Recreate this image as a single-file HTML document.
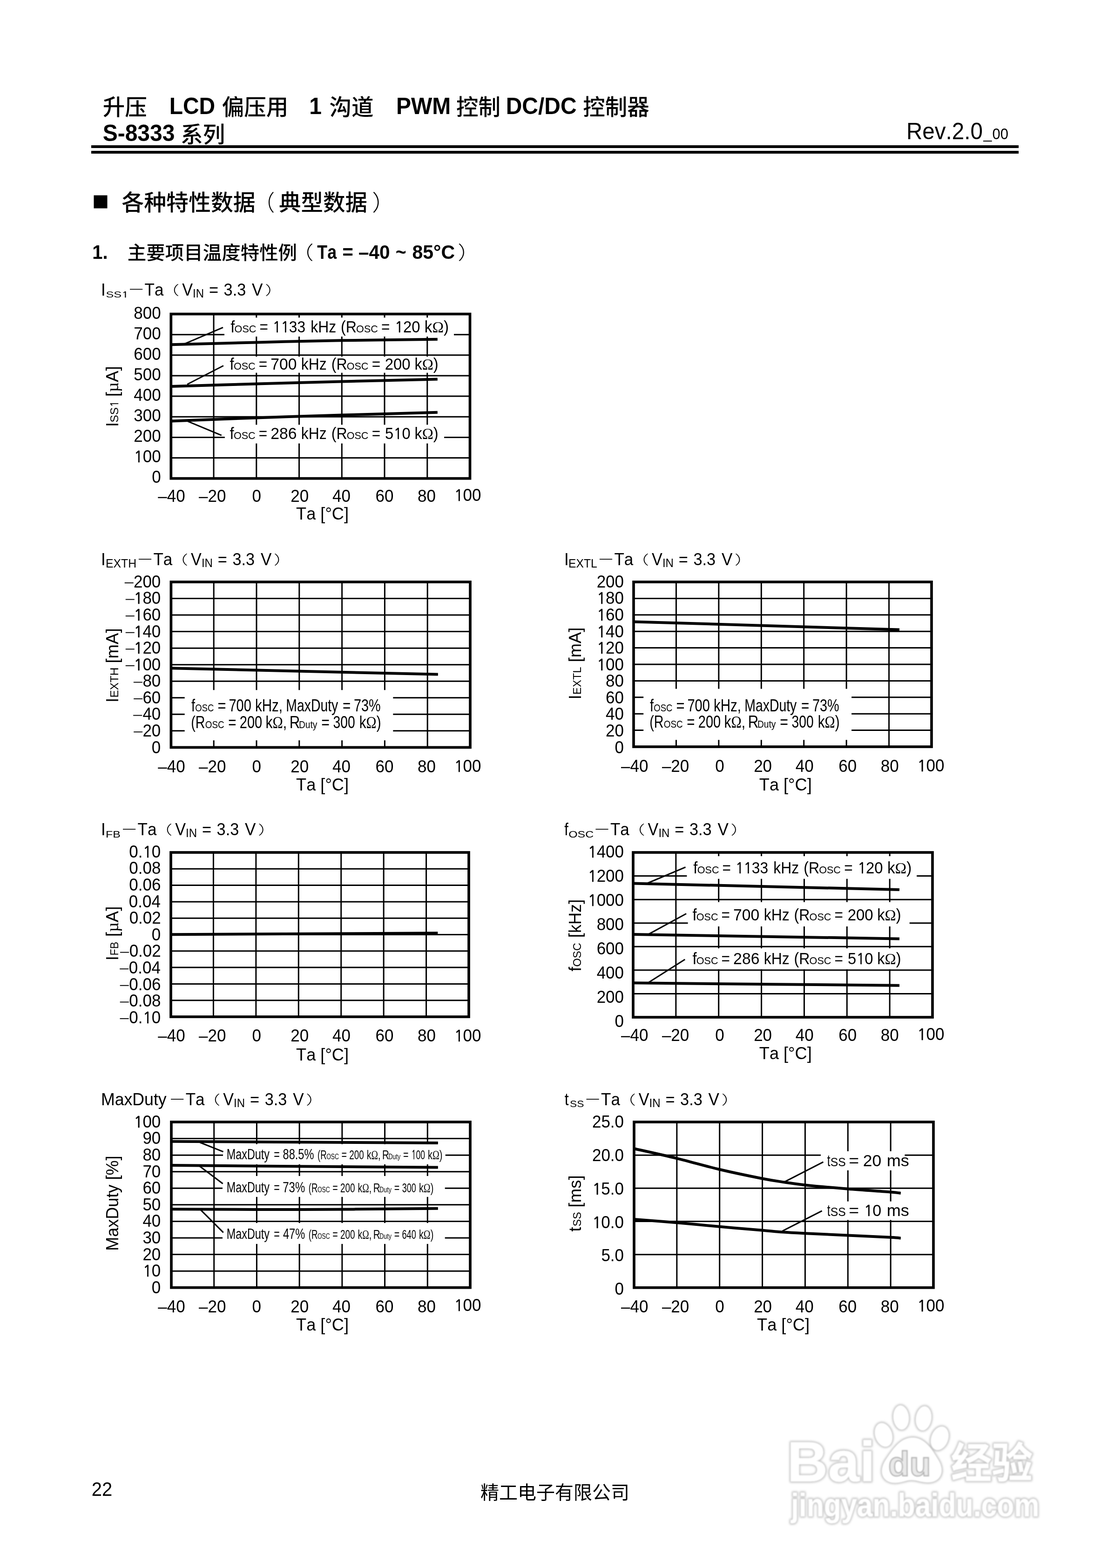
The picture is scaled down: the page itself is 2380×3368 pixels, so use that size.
<!DOCTYPE html>
<html lang="zh-CN"><head><meta charset="utf-8">
<title>S-8333 系列 各种特性数据</title>
<style>html,body{margin:0;padding:0;background:#fff}body{width:2380px;height:3368px;overflow:hidden}svg{display:block}text{white-space:pre;font-kerning:none}</style>
</head><body>
<svg width="2380" height="3368" viewBox="0 0 2380 3368">
<defs><filter id="wb" x="-5%" y="-10%" width="110%" height="120%"><feGaussianBlur stdDeviation="2.0"/></filter><filter id="wb2" x="-5%" y="-10%" width="110%" height="120%"><feGaussianBlur stdDeviation="0.9"/></filter></defs>
<rect width="2380" height="3368" fill="#fff"/>
<text transform="translate(220.79 247.30)" font-size="47.50" style='font-family:"Liberation Sans","Noto Sans CJK SC",sans-serif;font-weight:500'>升压</text>
<text transform="translate(363.63 245.30) scale(0.9597 1)" font-size="50.02" style='font-family:"Liberation Sans",sans-serif;font-weight:bold'>LCD</text>
<text transform="translate(476.66 247.30)" font-size="47.50" style='font-family:"Liberation Sans","Noto Sans CJK SC",sans-serif;font-weight:500'>偏压用</text>
<text transform="translate(664.22 245.30) scale(0.9597 1)" font-size="50.02" style='font-family:"Liberation Sans",sans-serif;font-weight:bold'>1</text>
<text transform="translate(707.58 247.30)" font-size="47.50" style='font-family:"Liberation Sans","Noto Sans CJK SC",sans-serif;font-weight:500'>沟道</text>
<text transform="translate(851.03 245.30) scale(0.9597 1)" font-size="50.02" style='font-family:"Liberation Sans",sans-serif;font-weight:bold'>PWM</text>
<text transform="translate(979.97 247.30)" font-size="47.50" style='font-family:"Liberation Sans","Noto Sans CJK SC",sans-serif;font-weight:500'>控制</text>
<text transform="translate(1086.63 245.30) scale(0.9597 1)" font-size="50.02" style='font-family:"Liberation Sans",sans-serif;font-weight:bold'>DC/DC</text>
<text transform="translate(1252.27 247.30)" font-size="47.50" style='font-family:"Liberation Sans","Noto Sans CJK SC",sans-serif;font-weight:500'>控制器</text>
<text transform="translate(220.66 303.00) scale(0.9597 1)" font-size="50.02" style='font-family:"Liberation Sans",sans-serif;font-weight:bold'>S-8333</text>
<text transform="translate(388.34 305.50)" font-size="47.50" style='font-family:"Liberation Sans","Noto Sans CJK SC",sans-serif;font-weight:500'>系列</text>
<text transform="translate(1947.00 299.00) scale(0.9510 1)" font-size="50.02" style='font-family:"Liberation Sans",sans-serif'>Rev.2.0</text>
<text transform="translate(2112.61 297.50) scale(0.9913 1)" font-size="32.30" style='font-family:"Liberation Sans",sans-serif'>_</text>
<text transform="translate(2131.41 299.00) scale(0.9597 1)" font-size="32.30" style='font-family:"Liberation Sans",sans-serif'>00</text>
<rect x="196.00" y="312.00" width="1992.00" height="6.00" fill="#000" stroke="none"/>
<rect x="196.00" y="324.00" width="1992.00" height="6.00" fill="#000" stroke="none"/>
<rect x="201.50" y="419.50" width="29.00" height="28.00" fill="#000" stroke="none"/>
<text transform="translate(261.25 451.80) scale(1.0090 1)" font-size="47.50" style='font-family:"Liberation Sans","Noto Sans CJK SC",sans-serif;font-weight:500'>各种特性数据</text>
<text transform="translate(544.27 451.80) scale(0.9649 1)" font-size="47.50" style='font-family:"Liberation Sans","Noto Sans CJK SC",sans-serif;font-weight:300'>（</text>
<text transform="translate(599.09 451.80)" font-size="47.50" style='font-family:"Liberation Sans","Noto Sans CJK SC",sans-serif;font-weight:500'>典型数据</text>
<text transform="translate(799.20 451.80) scale(1.0526 1)" font-size="47.50" style='font-family:"Liberation Sans","Noto Sans CJK SC",sans-serif;font-weight:300'>）</text>
<text transform="translate(198.20 556.30) scale(0.9597 1)" font-size="41.68" style='font-family:"Liberation Sans",sans-serif;font-weight:bold'>1.</text>
<text transform="translate(273.81 556.80) scale(1.0120 1)" font-size="40.00" style='font-family:"Liberation Sans","Noto Sans CJK SC",sans-serif;font-weight:500'>主要项目温度特性例</text>
<text transform="translate(625.79 556.80) scale(1.1979 1)" font-size="40.00" style='font-family:"Liberation Sans","Noto Sans CJK SC",sans-serif;font-weight:300'>（</text>
<text transform="translate(681.34 556.30) scale(0.8575 1)" font-size="41.68" style='font-family:"Liberation Sans",sans-serif;font-weight:bold'>Ta</text>
<text transform="translate(735.60 556.30) scale(0.9568 1)" font-size="41.68" style='font-family:"Liberation Sans",sans-serif;font-weight:bold'>=</text>
<text transform="translate(769.88 556.30) scale(0.9729 1)" font-size="41.68" style='font-family:"Liberation Sans",sans-serif;font-weight:bold'>–40</text>
<text transform="translate(849.81 556.30) scale(0.9409 1)" font-size="41.68" style='font-family:"Liberation Sans",sans-serif;font-weight:bold'>~</text>
<text transform="translate(885.47 556.30) scale(0.9848 1)" font-size="41.68" style='font-family:"Liberation Sans",sans-serif;font-weight:bold'>85°C</text>
<text transform="translate(983.30 556.80) scale(1.1979 1)" font-size="40.00" style='font-family:"Liberation Sans","Noto Sans CJK SC",sans-serif;font-weight:300'>）</text>
<text transform="translate(196.70 3213.00) scale(0.9597 1)" font-size="41.68" style='font-family:"Liberation Sans",sans-serif'>22</text>
<text transform="translate(1032.10 3219.50)" font-size="40.00" style='font-family:"Liberation Sans","Noto Sans CJK SC",sans-serif'>精工电子有限公司</text>
<text transform="translate(216.98 634.60) scale(0.9597 1)" font-size="36.47" style='font-family:"Liberation Sans",sans-serif'>I</text>
<text transform="translate(227.39 638.70) scale(1.3506 1)" font-size="18.76" style='font-family:"Liberation Sans",sans-serif'>SS<tspan style='font-family:"NanumGothic","Liberation Sans",sans-serif;stroke:#000;stroke-width:0.022em' font-size='17.35' dx='0.19'>1</tspan></text>
<line x1="279.00" y1="621.40" x2="306.20" y2="621.40" stroke-width="1.70" stroke="#000"/>
<text transform="translate(310.53 634.60) scale(0.9618 1)" font-size="36.47" style='font-family:"Liberation Sans",sans-serif'>Ta</text>
<text transform="translate(345.14 632.60) scale(1.4545 1)" font-size="27.50" style='font-family:"Liberation Sans","Noto Sans CJK SC",sans-serif;font-weight:300'>（</text>
<text transform="translate(391.16 634.60) scale(0.9389 1)" font-size="36.47" style='font-family:"Liberation Sans",sans-serif'>V</text>
<text transform="translate(413.99 638.60) scale(0.9414 1)" font-size="25.53" style='font-family:"Liberation Sans",sans-serif'>IN</text>
<text transform="translate(448.95 634.60) scale(0.9440 1)" font-size="36.47" style='font-family:"Liberation Sans",sans-serif'>=</text>
<text transform="translate(480.60 634.60) scale(0.9398 1)" font-size="36.47" style='font-family:"Liberation Sans",sans-serif'>3.3</text>
<text transform="translate(541.06 634.60) scale(0.9638 1)" font-size="36.47" style='font-family:"Liberation Sans",sans-serif'>V</text>
<text transform="translate(569.16 632.60) scale(1.4545 1)" font-size="27.50" style='font-family:"Liberation Sans","Noto Sans CJK SC",sans-serif;font-weight:300'>）</text>
<g stroke="#000" fill="none">
<line x1="459.04" y1="674.50" x2="459.04" y2="1027.70" stroke-width="3.00" />
<line x1="550.79" y1="674.50" x2="550.79" y2="1027.70" stroke-width="3.00" />
<line x1="642.53" y1="674.50" x2="642.53" y2="1027.70" stroke-width="3.00" />
<line x1="734.27" y1="674.50" x2="734.27" y2="1027.70" stroke-width="3.00" />
<line x1="826.01" y1="674.50" x2="826.01" y2="1027.70" stroke-width="3.00" />
<line x1="917.76" y1="674.50" x2="917.76" y2="1027.70" stroke-width="3.00" />
<line x1="367.30" y1="718.65" x2="1009.50" y2="718.65" stroke-width="3.00" />
<line x1="367.30" y1="762.80" x2="1009.50" y2="762.80" stroke-width="3.00" />
<line x1="367.30" y1="806.95" x2="1009.50" y2="806.95" stroke-width="3.00" />
<line x1="367.30" y1="851.10" x2="1009.50" y2="851.10" stroke-width="3.00" />
<line x1="367.30" y1="895.25" x2="1009.50" y2="895.25" stroke-width="3.00" />
<line x1="367.30" y1="939.40" x2="1009.50" y2="939.40" stroke-width="3.00" />
<line x1="367.30" y1="983.55" x2="1009.50" y2="983.55" stroke-width="3.00" />
</g>
<rect x="482.00" y="682.20" width="493.00" height="40.70" fill="#fff" stroke="none"/>
<rect x="482.00" y="766.00" width="468.00" height="34.70" fill="#fff" stroke="none"/>
<rect x="482.80" y="912.40" width="471.30" height="40.10" fill="#fff" stroke="none"/>
<g stroke="#000" fill="none">
<path d="M367.30 740.30 C397.92 739.48 489.88 736.90 551.00 735.40 C612.12 733.90 669.20 732.40 734.00 731.30 C798.80 730.20 905.50 729.22 939.80 728.80" fill="none" stroke-width="6.00"/>
<path d="M367.30 830.00 C397.92 829.08 489.88 826.25 551.00 824.50 C612.12 822.75 669.20 821.18 734.00 819.50 C798.80 817.82 905.50 815.25 939.80 814.40" fill="none" stroke-width="6.00"/>
<path d="M367.30 904.60 C397.92 903.42 489.88 899.68 551.00 897.50 C612.12 895.32 669.20 893.45 734.00 891.50 C798.80 889.55 905.50 886.75 939.80 885.80" fill="none" stroke-width="6.00"/>
<line x1="395.70" y1="738.80" x2="479.00" y2="703.30" stroke-width="3.00" />
<line x1="402.20" y1="825.50" x2="479.90" y2="785.50" stroke-width="3.00" />
<line x1="403.70" y1="905.20" x2="475.80" y2="935.20" stroke-width="3.00" />
<rect x="367.30" y="674.50" width="642.20" height="353.20" stroke-width="5.70"/>
</g>
<text transform="translate(287.25 684.80) scale(0.9597 1)" font-size="36.47" style='font-family:"Liberation Sans",sans-serif'>800</text>
<text transform="translate(287.25 728.77) scale(0.9597 1)" font-size="36.47" style='font-family:"Liberation Sans",sans-serif'>700</text>
<text transform="translate(287.25 772.75) scale(0.9597 1)" font-size="36.47" style='font-family:"Liberation Sans",sans-serif'>600</text>
<text transform="translate(287.25 816.72) scale(0.9597 1)" font-size="36.47" style='font-family:"Liberation Sans",sans-serif'>500</text>
<text transform="translate(287.25 860.70) scale(0.9597 1)" font-size="36.47" style='font-family:"Liberation Sans",sans-serif'>400</text>
<text transform="translate(287.25 904.67) scale(0.9597 1)" font-size="36.47" style='font-family:"Liberation Sans",sans-serif'>300</text>
<text transform="translate(287.25 948.65) scale(0.9597 1)" font-size="36.47" style='font-family:"Liberation Sans",sans-serif'>200</text>
<text transform="translate(287.25 992.62) scale(0.9597 1)" font-size="36.47" style='font-family:"Liberation Sans",sans-serif'><tspan style='font-family:"NanumGothic","Liberation Sans",sans-serif;stroke:#000;stroke-width:0.022em' font-size='33.73' dx='0.36'>1</tspan><tspan dx='-0.53'>00</tspan></text>
<text transform="translate(326.17 1036.60) scale(0.9597 1)" font-size="36.47" style='font-family:"Liberation Sans",sans-serif'>0</text>
<text transform="translate(339.28 1078.30) scale(0.9597 1)" font-size="36.47" style='font-family:"Liberation Sans",sans-serif'>–40</text>
<text transform="translate(427.08 1078.30) scale(0.9597 1)" font-size="36.47" style='font-family:"Liberation Sans",sans-serif'>–20</text>
<text transform="translate(541.47 1078.30) scale(0.9597 1)" font-size="36.47" style='font-family:"Liberation Sans",sans-serif'>0</text>
<text transform="translate(624.33 1078.30) scale(0.9597 1)" font-size="36.47" style='font-family:"Liberation Sans",sans-serif'>20</text>
<text transform="translate(713.92 1078.30) scale(0.9597 1)" font-size="36.47" style='font-family:"Liberation Sans",sans-serif'>40</text>
<text transform="translate(806.53 1078.30) scale(0.9597 1)" font-size="36.47" style='font-family:"Liberation Sans",sans-serif'>60</text>
<text transform="translate(897.07 1078.30) scale(0.9597 1)" font-size="36.47" style='font-family:"Liberation Sans",sans-serif'>80</text>
<text transform="translate(975.17 1076.10) scale(0.9597 1)" font-size="36.47" style='font-family:"Liberation Sans",sans-serif'><tspan style='font-family:"NanumGothic","Liberation Sans",sans-serif;stroke:#000;stroke-width:0.022em' font-size='33.73' dx='0.36'>1</tspan><tspan dx='-0.53'>00</tspan></text>
<text transform="translate(636.10 1115.80) scale(0.9918 1)" font-size="36.47" style='font-family:"Liberation Sans",sans-serif'>Ta [°C]</text>
<text transform="translate(495.24 714.20) scale(0.9597 1)" font-size="34.39" style='font-family:"Liberation Sans",sans-serif'>f</text>
<text transform="translate(503.61 714.20) scale(0.9428 1)" font-size="22.92" style='font-family:"Liberation Sans",sans-serif'>OSC</text>
<text transform="translate(557.39 714.20) scale(0.9177 1)" font-size="34.39" style='font-family:"Liberation Sans",sans-serif'>=</text>
<text transform="translate(585.55 714.20) scale(0.9217 1)" font-size="34.39" style='font-family:"Liberation Sans",sans-serif'><tspan style='font-family:"NanumGothic","Liberation Sans",sans-serif;stroke:#000;stroke-width:0.022em' font-size='31.80' dx='0.34'>1</tspan><tspan style='font-family:"NanumGothic","Liberation Sans",sans-serif;stroke:#000;stroke-width:0.022em' font-size='31.80' dx='-0.15'>1</tspan><tspan dx='-0.50'>33</tspan></text>
<text transform="translate(667.19 714.20) scale(0.9278 1)" font-size="34.39" style='font-family:"Liberation Sans",sans-serif'>kHz</text>
<text transform="translate(732.11 714.20) scale(0.9326 1)" font-size="34.39" style='font-family:"Liberation Sans",sans-serif'>(R</text>
<text transform="translate(765.11 714.20) scale(0.9408 1)" font-size="22.92" style='font-family:"Liberation Sans",sans-serif'>OSC</text>
<text transform="translate(819.09 714.20) scale(0.9177 1)" font-size="34.39" style='font-family:"Liberation Sans",sans-serif'>=</text>
<text transform="translate(847.72 714.20) scale(0.9560 1)" font-size="34.39" style='font-family:"Liberation Sans",sans-serif'><tspan style='font-family:"NanumGothic","Liberation Sans",sans-serif;stroke:#000;stroke-width:0.022em' font-size='31.80' dx='0.34'>1</tspan><tspan dx='-0.50'>20</tspan></text>
<text transform="translate(911.81 714.20) scale(0.9653 1)" font-size="34.39" style='font-family:"Liberation Sans",sans-serif'>k<tspan style='font-family:"Liberation Serif",serif'>Ω</tspan>)</text>
<text transform="translate(493.54 794.20) scale(0.9597 1)" font-size="34.39" style='font-family:"Liberation Sans",sans-serif'>f</text>
<text transform="translate(501.91 794.20) scale(0.9428 1)" font-size="22.92" style='font-family:"Liberation Sans",sans-serif'>OSC</text>
<text transform="translate(555.69 794.20) scale(0.9177 1)" font-size="34.39" style='font-family:"Liberation Sans",sans-serif'>=</text>
<text transform="translate(581.22 794.20) scale(0.9792 1)" font-size="34.39" style='font-family:"Liberation Sans",sans-serif'>700</text>
<text transform="translate(646.79 794.20) scale(0.9278 1)" font-size="34.39" style='font-family:"Liberation Sans",sans-serif'>kHz</text>
<text transform="translate(711.71 794.20) scale(0.9326 1)" font-size="34.39" style='font-family:"Liberation Sans",sans-serif'>(R</text>
<text transform="translate(744.71 794.20) scale(0.9408 1)" font-size="22.92" style='font-family:"Liberation Sans",sans-serif'>OSC</text>
<text transform="translate(798.69 794.20) scale(0.9177 1)" font-size="34.39" style='font-family:"Liberation Sans",sans-serif'>=</text>
<text transform="translate(826.75 794.20) scale(0.9571 1)" font-size="34.39" style='font-family:"Liberation Sans",sans-serif'>200</text>
<text transform="translate(890.45 794.20) scale(0.9452 1)" font-size="34.39" style='font-family:"Liberation Sans",sans-serif'>k<tspan style='font-family:"Liberation Serif",serif'>Ω</tspan>)</text>
<text transform="translate(493.54 942.90) scale(0.9597 1)" font-size="34.39" style='font-family:"Liberation Sans",sans-serif'>f</text>
<text transform="translate(501.91 942.90) scale(0.9428 1)" font-size="22.92" style='font-family:"Liberation Sans",sans-serif'>OSC</text>
<text transform="translate(555.69 942.90) scale(0.9177 1)" font-size="34.39" style='font-family:"Liberation Sans",sans-serif'>=</text>
<text transform="translate(581.21 942.90) scale(0.9817 1)" font-size="34.39" style='font-family:"Liberation Sans",sans-serif'>286</text>
<text transform="translate(646.79 942.90) scale(0.9278 1)" font-size="34.39" style='font-family:"Liberation Sans",sans-serif'>kHz</text>
<text transform="translate(711.71 942.90) scale(0.9326 1)" font-size="34.39" style='font-family:"Liberation Sans",sans-serif'>(R</text>
<text transform="translate(744.71 942.90) scale(0.9408 1)" font-size="22.92" style='font-family:"Liberation Sans",sans-serif'>OSC</text>
<text transform="translate(798.69 942.90) scale(0.9177 1)" font-size="34.39" style='font-family:"Liberation Sans",sans-serif'>=</text>
<text transform="translate(827.09 942.90) scale(0.9510 1)" font-size="34.39" style='font-family:"Liberation Sans",sans-serif'>5<tspan style='font-family:"NanumGothic","Liberation Sans",sans-serif;stroke:#000;stroke-width:0.022em' font-size='31.80' dx='0.34'>1</tspan><tspan dx='-0.50'>0</tspan></text>
<text transform="translate(890.45 942.90) scale(0.9452 1)" font-size="34.39" style='font-family:"Liberation Sans",sans-serif'>k<tspan style='font-family:"Liberation Serif",serif'>Ω</tspan>)</text>
<text transform="translate(253.90 916.82) rotate(-90) scale(0.9597 1)" font-size="36.47" style='font-family:"Liberation Sans",sans-serif'>I</text>
<text transform="translate(253.90 907.48) rotate(-90)" font-size="24.49" style='font-family:"Liberation Sans",sans-serif'>SS<tspan style='font-family:"NanumGothic","Liberation Sans",sans-serif;stroke:#000;stroke-width:0.022em' font-size='22.65' dx='0.24'>1</tspan></text>
<text transform="translate(253.90 852.06) rotate(-90) scale(1.0026 1)" font-size="36.47" style='font-family:"Liberation Sans",sans-serif'>[<tspan style='font-family:"Liberation Serif",serif'>µ</tspan>A]</text>
<text transform="translate(216.98 1214.40) scale(0.9597 1)" font-size="36.47" style='font-family:"Liberation Sans",sans-serif'>I</text>
<text transform="translate(226.97 1218.50) scale(0.9715 1)" font-size="25.53" style='font-family:"Liberation Sans",sans-serif'>EXTH</text>
<line x1="297.90" y1="1201.20" x2="325.10" y2="1201.20" stroke-width="1.70" stroke="#000"/>
<text transform="translate(329.43 1214.40) scale(0.9618 1)" font-size="36.47" style='font-family:"Liberation Sans",sans-serif'>Ta</text>
<text transform="translate(364.04 1212.40) scale(1.4545 1)" font-size="27.50" style='font-family:"Liberation Sans","Noto Sans CJK SC",sans-serif;font-weight:300'>（</text>
<text transform="translate(410.06 1214.40) scale(0.9389 1)" font-size="36.47" style='font-family:"Liberation Sans",sans-serif'>V</text>
<text transform="translate(432.89 1218.40) scale(0.9414 1)" font-size="25.53" style='font-family:"Liberation Sans",sans-serif'>IN</text>
<text transform="translate(467.85 1214.40) scale(0.9440 1)" font-size="36.47" style='font-family:"Liberation Sans",sans-serif'>=</text>
<text transform="translate(499.50 1214.40) scale(0.9398 1)" font-size="36.47" style='font-family:"Liberation Sans",sans-serif'>3.3</text>
<text transform="translate(559.96 1214.40) scale(0.9638 1)" font-size="36.47" style='font-family:"Liberation Sans",sans-serif'>V</text>
<text transform="translate(588.06 1212.40) scale(1.4545 1)" font-size="27.50" style='font-family:"Liberation Sans","Noto Sans CJK SC",sans-serif;font-weight:300'>）</text>
<g stroke="#000" fill="none">
<line x1="459.20" y1="1250.00" x2="459.20" y2="1605.40" stroke-width="3.00" />
<line x1="551.00" y1="1250.00" x2="551.00" y2="1605.40" stroke-width="3.00" />
<line x1="642.80" y1="1250.00" x2="642.80" y2="1605.40" stroke-width="3.00" />
<line x1="734.60" y1="1250.00" x2="734.60" y2="1605.40" stroke-width="3.00" />
<line x1="826.40" y1="1250.00" x2="826.40" y2="1605.40" stroke-width="3.00" />
<line x1="918.20" y1="1250.00" x2="918.20" y2="1605.40" stroke-width="3.00" />
<line x1="367.40" y1="1285.54" x2="1010.00" y2="1285.54" stroke-width="3.00" />
<line x1="367.40" y1="1321.08" x2="1010.00" y2="1321.08" stroke-width="3.00" />
<line x1="367.40" y1="1356.62" x2="1010.00" y2="1356.62" stroke-width="3.00" />
<line x1="367.40" y1="1392.16" x2="1010.00" y2="1392.16" stroke-width="3.00" />
<line x1="367.40" y1="1427.70" x2="1010.00" y2="1427.70" stroke-width="3.00" />
<line x1="367.40" y1="1463.24" x2="1010.00" y2="1463.24" stroke-width="3.00" />
<line x1="367.40" y1="1498.78" x2="1010.00" y2="1498.78" stroke-width="3.00" />
<line x1="367.40" y1="1534.32" x2="1010.00" y2="1534.32" stroke-width="3.00" />
<line x1="367.40" y1="1569.86" x2="1010.00" y2="1569.86" stroke-width="3.00" />
</g>
<rect x="396.70" y="1482.20" width="447.60" height="108.00" fill="#fff" stroke="none"/>
<g stroke="#000" fill="none">
<path d="M367.40 1435.30 L940.80 1448.60" fill="none" stroke-width="6.00"/>
<rect x="367.40" y="1250.00" width="642.60" height="355.40" stroke-width="5.70"/>
</g>
<text transform="translate(286.95 1261.80) scale(0.9597 1)" font-size="36.47" style='font-family:"Liberation Sans",sans-serif'>200</text>
<line x1="267.70" y1="1252.00" x2="286.70" y2="1252.00" stroke-width="1.90" stroke="#000"/>
<text transform="translate(286.95 1297.38) scale(0.9597 1)" font-size="36.47" style='font-family:"Liberation Sans",sans-serif'><tspan style='font-family:"NanumGothic","Liberation Sans",sans-serif;stroke:#000;stroke-width:0.022em' font-size='33.73' dx='0.36'>1</tspan><tspan dx='-0.53'>80</tspan></text>
<line x1="269.76" y1="1287.58" x2="288.76" y2="1287.58" stroke-width="1.90" stroke="#000"/>
<text transform="translate(286.95 1332.96) scale(0.9597 1)" font-size="36.47" style='font-family:"Liberation Sans",sans-serif'><tspan style='font-family:"NanumGothic","Liberation Sans",sans-serif;stroke:#000;stroke-width:0.022em' font-size='33.73' dx='0.36'>1</tspan><tspan dx='-0.53'>60</tspan></text>
<line x1="269.76" y1="1323.16" x2="288.76" y2="1323.16" stroke-width="1.90" stroke="#000"/>
<text transform="translate(286.95 1368.54) scale(0.9597 1)" font-size="36.47" style='font-family:"Liberation Sans",sans-serif'><tspan style='font-family:"NanumGothic","Liberation Sans",sans-serif;stroke:#000;stroke-width:0.022em' font-size='33.73' dx='0.36'>1</tspan><tspan dx='-0.53'>40</tspan></text>
<line x1="269.76" y1="1358.74" x2="288.76" y2="1358.74" stroke-width="1.90" stroke="#000"/>
<text transform="translate(286.95 1404.12) scale(0.9597 1)" font-size="36.47" style='font-family:"Liberation Sans",sans-serif'><tspan style='font-family:"NanumGothic","Liberation Sans",sans-serif;stroke:#000;stroke-width:0.022em' font-size='33.73' dx='0.36'>1</tspan><tspan dx='-0.53'>20</tspan></text>
<line x1="269.76" y1="1394.32" x2="288.76" y2="1394.32" stroke-width="1.90" stroke="#000"/>
<text transform="translate(286.95 1439.70) scale(0.9597 1)" font-size="36.47" style='font-family:"Liberation Sans",sans-serif'><tspan style='font-family:"NanumGothic","Liberation Sans",sans-serif;stroke:#000;stroke-width:0.022em' font-size='33.73' dx='0.36'>1</tspan><tspan dx='-0.53'>00</tspan></text>
<line x1="269.76" y1="1429.90" x2="288.76" y2="1429.90" stroke-width="1.90" stroke="#000"/>
<text transform="translate(306.41 1475.28) scale(0.9597 1)" font-size="36.47" style='font-family:"Liberation Sans",sans-serif'>80</text>
<line x1="286.88" y1="1465.48" x2="305.88" y2="1465.48" stroke-width="1.90" stroke="#000"/>
<text transform="translate(306.41 1510.86) scale(0.9597 1)" font-size="36.47" style='font-family:"Liberation Sans",sans-serif'>60</text>
<line x1="287.16" y1="1501.06" x2="306.16" y2="1501.06" stroke-width="1.90" stroke="#000"/>
<text transform="translate(306.41 1546.44) scale(0.9597 1)" font-size="36.47" style='font-family:"Liberation Sans",sans-serif'>40</text>
<line x1="286.18" y1="1536.64" x2="305.18" y2="1536.64" stroke-width="1.90" stroke="#000"/>
<text transform="translate(306.41 1582.02) scale(0.9597 1)" font-size="36.47" style='font-family:"Liberation Sans",sans-serif'>20</text>
<line x1="287.16" y1="1572.22" x2="306.16" y2="1572.22" stroke-width="1.90" stroke="#000"/>
<text transform="translate(325.87 1617.60) scale(0.9597 1)" font-size="36.47" style='font-family:"Liberation Sans",sans-serif'>0</text>
<text transform="translate(339.28 1658.70) scale(0.9597 1)" font-size="36.47" style='font-family:"Liberation Sans",sans-serif'>–40</text>
<text transform="translate(427.08 1658.70) scale(0.9597 1)" font-size="36.47" style='font-family:"Liberation Sans",sans-serif'>–20</text>
<text transform="translate(541.47 1658.70) scale(0.9597 1)" font-size="36.47" style='font-family:"Liberation Sans",sans-serif'>0</text>
<text transform="translate(624.33 1658.70) scale(0.9597 1)" font-size="36.47" style='font-family:"Liberation Sans",sans-serif'>20</text>
<text transform="translate(713.92 1658.70) scale(0.9597 1)" font-size="36.47" style='font-family:"Liberation Sans",sans-serif'>40</text>
<text transform="translate(806.53 1658.70) scale(0.9597 1)" font-size="36.47" style='font-family:"Liberation Sans",sans-serif'>60</text>
<text transform="translate(897.07 1658.70) scale(0.9597 1)" font-size="36.47" style='font-family:"Liberation Sans",sans-serif'>80</text>
<text transform="translate(975.17 1657.70) scale(0.9597 1)" font-size="36.47" style='font-family:"Liberation Sans",sans-serif'><tspan style='font-family:"NanumGothic","Liberation Sans",sans-serif;stroke:#000;stroke-width:0.022em' font-size='33.73' dx='0.36'>1</tspan><tspan dx='-0.53'>00</tspan></text>
<text transform="translate(636.10 1697.80) scale(0.9918 1)" font-size="36.47" style='font-family:"Liberation Sans",sans-serif'>Ta [°C]</text>
<text transform="translate(410.99 1528.40) scale(0.7937 1)" font-size="36.47" style='font-family:"Liberation Sans",sans-serif'>f</text>
<text transform="translate(419.25 1528.40) scale(0.8451 1)" font-size="21.88" style='font-family:"Liberation Sans",sans-serif'>OSC</text>
<text transform="translate(467.61 1528.40) scale(0.8484 1)" font-size="36.47" style='font-family:"Liberation Sans",sans-serif'>=</text>
<text transform="translate(491.45 1528.40) scale(0.7948 1)" font-size="36.47" style='font-family:"Liberation Sans",sans-serif'>700</text>
<text transform="translate(547.95 1528.40) scale(0.8104 1)" font-size="36.47" style='font-family:"Liberation Sans",sans-serif'>kHz,</text>
<text transform="translate(614.27 1528.40) scale(0.7789 1)" font-size="36.47" style='font-family:"Liberation Sans",sans-serif'>MaxDuty</text>
<text transform="translate(736.08 1528.40) scale(0.8091 1)" font-size="36.47" style='font-family:"Liberation Sans",sans-serif'>=</text>
<text transform="translate(760.06 1528.40) scale(0.7900 1)" font-size="36.47" style='font-family:"Liberation Sans",sans-serif'>73%</text>
<text transform="translate(410.32 1563.90) scale(0.7867 1)" font-size="36.47" style='font-family:"Liberation Sans",sans-serif'>(R</text>
<text transform="translate(440.73 1563.90) scale(0.8648 1)" font-size="21.88" style='font-family:"Liberation Sans",sans-serif'>OSC</text>
<text transform="translate(490.18 1563.90) scale(0.8091 1)" font-size="36.47" style='font-family:"Liberation Sans",sans-serif'>=</text>
<text transform="translate(514.85 1563.90) scale(0.7948 1)" font-size="36.47" style='font-family:"Liberation Sans",sans-serif'>200</text>
<text transform="translate(570.42 1563.90) scale(0.8235 1)" font-size="36.47" style='font-family:"Liberation Sans",sans-serif'>k<tspan style='font-family:"Liberation Serif",serif'>Ω</tspan>,</text>
<text transform="translate(621.73 1563.90) scale(0.8586 1)" font-size="36.47" style='font-family:"Liberation Sans",sans-serif'>R</text>
<text transform="translate(641.92 1563.90) scale(0.8954 1)" font-size="21.47" style='font-family:"Liberation Sans",sans-serif'>Duty</text>
<text transform="translate(690.14 1563.90) scale(0.8316 1)" font-size="36.47" style='font-family:"Liberation Sans",sans-serif'>=</text>
<text transform="translate(715.53 1563.90) scale(0.7733 1)" font-size="36.47" style='font-family:"Liberation Sans",sans-serif'>300</text>
<text transform="translate(771.74 1563.90) scale(0.8136 1)" font-size="36.47" style='font-family:"Liberation Sans",sans-serif'>k<tspan style='font-family:"Liberation Serif",serif'>Ω</tspan>)</text>
<text transform="translate(253.90 1508.72) rotate(-90) scale(0.9597 1)" font-size="36.47" style='font-family:"Liberation Sans",sans-serif'>I</text>
<text transform="translate(253.90 1498.60) rotate(-90) scale(0.9965 1)" font-size="24.49" style='font-family:"Liberation Sans",sans-serif'>EXTH</text>
<text transform="translate(253.90 1424.56) rotate(-90) scale(1.0018 1)" font-size="36.47" style='font-family:"Liberation Sans",sans-serif'>[mA]</text>
<text transform="translate(1211.88 1214.40) scale(0.9597 1)" font-size="36.47" style='font-family:"Liberation Sans",sans-serif'>I</text>
<text transform="translate(1221.08 1218.50) scale(0.9653 1)" font-size="25.53" style='font-family:"Liberation Sans",sans-serif'>EXTL</text>
<line x1="1287.90" y1="1201.20" x2="1315.10" y2="1201.20" stroke-width="1.70" stroke="#000"/>
<text transform="translate(1319.43 1214.40) scale(0.9618 1)" font-size="36.47" style='font-family:"Liberation Sans",sans-serif'>Ta</text>
<text transform="translate(1354.04 1212.40) scale(1.4545 1)" font-size="27.50" style='font-family:"Liberation Sans","Noto Sans CJK SC",sans-serif;font-weight:300'>（</text>
<text transform="translate(1400.06 1214.40) scale(0.9389 1)" font-size="36.47" style='font-family:"Liberation Sans",sans-serif'>V</text>
<text transform="translate(1422.89 1218.40) scale(0.9414 1)" font-size="25.53" style='font-family:"Liberation Sans",sans-serif'>IN</text>
<text transform="translate(1457.85 1214.40) scale(0.9440 1)" font-size="36.47" style='font-family:"Liberation Sans",sans-serif'>=</text>
<text transform="translate(1489.50 1214.40) scale(0.9398 1)" font-size="36.47" style='font-family:"Liberation Sans",sans-serif'>3.3</text>
<text transform="translate(1549.96 1214.40) scale(0.9638 1)" font-size="36.47" style='font-family:"Liberation Sans",sans-serif'>V</text>
<text transform="translate(1578.06 1212.40) scale(1.4545 1)" font-size="27.50" style='font-family:"Liberation Sans","Noto Sans CJK SC",sans-serif;font-weight:300'>）</text>
<g stroke="#000" fill="none">
<line x1="1452.43" y1="1250.00" x2="1452.43" y2="1604.00" stroke-width="3.00" />
<line x1="1543.86" y1="1250.00" x2="1543.86" y2="1604.00" stroke-width="3.00" />
<line x1="1635.29" y1="1250.00" x2="1635.29" y2="1604.00" stroke-width="3.00" />
<line x1="1726.71" y1="1250.00" x2="1726.71" y2="1604.00" stroke-width="3.00" />
<line x1="1818.14" y1="1250.00" x2="1818.14" y2="1604.00" stroke-width="3.00" />
<line x1="1909.57" y1="1250.00" x2="1909.57" y2="1604.00" stroke-width="3.00" />
<line x1="1361.00" y1="1285.40" x2="2001.00" y2="1285.40" stroke-width="3.00" />
<line x1="1361.00" y1="1320.80" x2="2001.00" y2="1320.80" stroke-width="3.00" />
<line x1="1361.00" y1="1356.20" x2="2001.00" y2="1356.20" stroke-width="3.00" />
<line x1="1361.00" y1="1391.60" x2="2001.00" y2="1391.60" stroke-width="3.00" />
<line x1="1361.00" y1="1427.00" x2="2001.00" y2="1427.00" stroke-width="3.00" />
<line x1="1361.00" y1="1462.40" x2="2001.00" y2="1462.40" stroke-width="3.00" />
<line x1="1361.00" y1="1497.80" x2="2001.00" y2="1497.80" stroke-width="3.00" />
<line x1="1361.00" y1="1533.20" x2="2001.00" y2="1533.20" stroke-width="3.00" />
<line x1="1361.00" y1="1568.60" x2="2001.00" y2="1568.60" stroke-width="3.00" />
</g>
<rect x="1382.20" y="1479.60" width="446.90" height="109.70" fill="#fff" stroke="none"/>
<g stroke="#000" fill="none">
<path d="M1361.00 1335.40 L1932.00 1352.60" fill="none" stroke-width="6.00"/>
<rect x="1361.00" y="1250.00" width="640.00" height="354.00" stroke-width="5.70"/>
</g>
<text transform="translate(1281.65 1261.80) scale(0.9597 1)" font-size="36.47" style='font-family:"Liberation Sans",sans-serif'>200</text>
<text transform="translate(1281.65 1297.38) scale(0.9597 1)" font-size="36.47" style='font-family:"Liberation Sans",sans-serif'><tspan style='font-family:"NanumGothic","Liberation Sans",sans-serif;stroke:#000;stroke-width:0.022em' font-size='33.73' dx='0.36'>1</tspan><tspan dx='-0.53'>80</tspan></text>
<text transform="translate(1281.65 1332.96) scale(0.9597 1)" font-size="36.47" style='font-family:"Liberation Sans",sans-serif'><tspan style='font-family:"NanumGothic","Liberation Sans",sans-serif;stroke:#000;stroke-width:0.022em' font-size='33.73' dx='0.36'>1</tspan><tspan dx='-0.53'>60</tspan></text>
<text transform="translate(1281.65 1368.54) scale(0.9597 1)" font-size="36.47" style='font-family:"Liberation Sans",sans-serif'><tspan style='font-family:"NanumGothic","Liberation Sans",sans-serif;stroke:#000;stroke-width:0.022em' font-size='33.73' dx='0.36'>1</tspan><tspan dx='-0.53'>40</tspan></text>
<text transform="translate(1281.65 1404.12) scale(0.9597 1)" font-size="36.47" style='font-family:"Liberation Sans",sans-serif'><tspan style='font-family:"NanumGothic","Liberation Sans",sans-serif;stroke:#000;stroke-width:0.022em' font-size='33.73' dx='0.36'>1</tspan><tspan dx='-0.53'>20</tspan></text>
<text transform="translate(1281.65 1439.70) scale(0.9597 1)" font-size="36.47" style='font-family:"Liberation Sans",sans-serif'><tspan style='font-family:"NanumGothic","Liberation Sans",sans-serif;stroke:#000;stroke-width:0.022em' font-size='33.73' dx='0.36'>1</tspan><tspan dx='-0.53'>00</tspan></text>
<text transform="translate(1301.11 1475.28) scale(0.9597 1)" font-size="36.47" style='font-family:"Liberation Sans",sans-serif'>80</text>
<text transform="translate(1301.11 1510.86) scale(0.9597 1)" font-size="36.47" style='font-family:"Liberation Sans",sans-serif'>60</text>
<text transform="translate(1301.11 1546.44) scale(0.9597 1)" font-size="36.47" style='font-family:"Liberation Sans",sans-serif'>40</text>
<text transform="translate(1301.11 1582.02) scale(0.9597 1)" font-size="36.47" style='font-family:"Liberation Sans",sans-serif'>20</text>
<text transform="translate(1320.57 1617.60) scale(0.9597 1)" font-size="36.47" style='font-family:"Liberation Sans",sans-serif'>0</text>
<text transform="translate(1334.07 1658.30) scale(0.9597 1)" font-size="36.47" style='font-family:"Liberation Sans",sans-serif'>–40</text>
<text transform="translate(1421.88 1658.30) scale(0.9597 1)" font-size="36.47" style='font-family:"Liberation Sans",sans-serif'>–20</text>
<text transform="translate(1536.27 1658.30) scale(0.9597 1)" font-size="36.47" style='font-family:"Liberation Sans",sans-serif'>0</text>
<text transform="translate(1619.13 1658.30) scale(0.9597 1)" font-size="36.47" style='font-family:"Liberation Sans",sans-serif'>20</text>
<text transform="translate(1708.72 1658.30) scale(0.9597 1)" font-size="36.47" style='font-family:"Liberation Sans",sans-serif'>40</text>
<text transform="translate(1801.33 1658.30) scale(0.9597 1)" font-size="36.47" style='font-family:"Liberation Sans",sans-serif'>60</text>
<text transform="translate(1891.87 1658.30) scale(0.9597 1)" font-size="36.47" style='font-family:"Liberation Sans",sans-serif'>80</text>
<text transform="translate(1969.97 1657.30) scale(0.9597 1)" font-size="36.47" style='font-family:"Liberation Sans",sans-serif'><tspan style='font-family:"NanumGothic","Liberation Sans",sans-serif;stroke:#000;stroke-width:0.022em' font-size='33.73' dx='0.36'>1</tspan><tspan dx='-0.53'>00</tspan></text>
<text transform="translate(1630.80 1697.80) scale(0.9918 1)" font-size="36.47" style='font-family:"Liberation Sans",sans-serif'>Ta [°C]</text>
<text transform="translate(1395.99 1527.50) scale(0.7937 1)" font-size="36.47" style='font-family:"Liberation Sans",sans-serif'>f</text>
<text transform="translate(1404.25 1527.50) scale(0.8451 1)" font-size="21.88" style='font-family:"Liberation Sans",sans-serif'>OSC</text>
<text transform="translate(1452.61 1527.50) scale(0.8484 1)" font-size="36.47" style='font-family:"Liberation Sans",sans-serif'>=</text>
<text transform="translate(1476.45 1527.50) scale(0.7948 1)" font-size="36.47" style='font-family:"Liberation Sans",sans-serif'>700</text>
<text transform="translate(1532.95 1527.50) scale(0.8104 1)" font-size="36.47" style='font-family:"Liberation Sans",sans-serif'>kHz,</text>
<text transform="translate(1599.27 1527.50) scale(0.7789 1)" font-size="36.47" style='font-family:"Liberation Sans",sans-serif'>MaxDuty</text>
<text transform="translate(1721.08 1527.50) scale(0.8091 1)" font-size="36.47" style='font-family:"Liberation Sans",sans-serif'>=</text>
<text transform="translate(1745.06 1527.50) scale(0.7900 1)" font-size="36.47" style='font-family:"Liberation Sans",sans-serif'>73%</text>
<text transform="translate(1395.32 1563.00) scale(0.7867 1)" font-size="36.47" style='font-family:"Liberation Sans",sans-serif'>(R</text>
<text transform="translate(1425.73 1563.00) scale(0.8648 1)" font-size="21.88" style='font-family:"Liberation Sans",sans-serif'>OSC</text>
<text transform="translate(1475.18 1563.00) scale(0.8091 1)" font-size="36.47" style='font-family:"Liberation Sans",sans-serif'>=</text>
<text transform="translate(1499.85 1563.00) scale(0.7948 1)" font-size="36.47" style='font-family:"Liberation Sans",sans-serif'>200</text>
<text transform="translate(1555.42 1563.00) scale(0.8235 1)" font-size="36.47" style='font-family:"Liberation Sans",sans-serif'>k<tspan style='font-family:"Liberation Serif",serif'>Ω</tspan>,</text>
<text transform="translate(1606.73 1563.00) scale(0.8586 1)" font-size="36.47" style='font-family:"Liberation Sans",sans-serif'>R</text>
<text transform="translate(1626.92 1563.00) scale(0.8954 1)" font-size="21.47" style='font-family:"Liberation Sans",sans-serif'>Duty</text>
<text transform="translate(1675.14 1563.00) scale(0.8316 1)" font-size="36.47" style='font-family:"Liberation Sans",sans-serif'>=</text>
<text transform="translate(1700.53 1563.00) scale(0.7733 1)" font-size="36.47" style='font-family:"Liberation Sans",sans-serif'>300</text>
<text transform="translate(1756.74 1563.00) scale(0.8136 1)" font-size="36.47" style='font-family:"Liberation Sans",sans-serif'>k<tspan style='font-family:"Liberation Serif",serif'>Ω</tspan>)</text>
<text transform="translate(1247.90 1502.22) rotate(-90) scale(0.9597 1)" font-size="36.47" style='font-family:"Liberation Sans",sans-serif'>I</text>
<text transform="translate(1247.90 1491.95) rotate(-90) scale(0.9705 1)" font-size="24.49" style='font-family:"Liberation Sans",sans-serif'>EXTL</text>
<text transform="translate(1247.90 1422.34) rotate(-90) scale(0.9960 1)" font-size="36.47" style='font-family:"Liberation Sans",sans-serif'>[mA]</text>
<text transform="translate(216.98 1794.40) scale(0.9597 1)" font-size="36.47" style='font-family:"Liberation Sans",sans-serif'>I</text>
<text transform="translate(226.96 1798.50) scale(1.1836 1)" font-size="21.05" style='font-family:"Liberation Sans",sans-serif'>FB</text>
<line x1="264.00" y1="1781.20" x2="291.20" y2="1781.20" stroke-width="1.70" stroke="#000"/>
<text transform="translate(295.53 1794.40) scale(0.9618 1)" font-size="36.47" style='font-family:"Liberation Sans",sans-serif'>Ta</text>
<text transform="translate(330.14 1792.40) scale(1.4545 1)" font-size="27.50" style='font-family:"Liberation Sans","Noto Sans CJK SC",sans-serif;font-weight:300'>（</text>
<text transform="translate(376.16 1794.40) scale(0.9389 1)" font-size="36.47" style='font-family:"Liberation Sans",sans-serif'>V</text>
<text transform="translate(398.99 1798.40) scale(0.9414 1)" font-size="25.53" style='font-family:"Liberation Sans",sans-serif'>IN</text>
<text transform="translate(433.95 1794.40) scale(0.9440 1)" font-size="36.47" style='font-family:"Liberation Sans",sans-serif'>=</text>
<text transform="translate(465.60 1794.40) scale(0.9398 1)" font-size="36.47" style='font-family:"Liberation Sans",sans-serif'>3.3</text>
<text transform="translate(526.06 1794.40) scale(0.9638 1)" font-size="36.47" style='font-family:"Liberation Sans",sans-serif'>V</text>
<text transform="translate(554.16 1792.40) scale(1.4545 1)" font-size="27.50" style='font-family:"Liberation Sans","Noto Sans CJK SC",sans-serif;font-weight:300'>）</text>
<g stroke="#000" fill="none">
<line x1="458.43" y1="1831.00" x2="458.43" y2="2184.00" stroke-width="3.00" />
<line x1="549.86" y1="1831.00" x2="549.86" y2="2184.00" stroke-width="3.00" />
<line x1="641.29" y1="1831.00" x2="641.29" y2="2184.00" stroke-width="3.00" />
<line x1="732.71" y1="1831.00" x2="732.71" y2="2184.00" stroke-width="3.00" />
<line x1="824.14" y1="1831.00" x2="824.14" y2="2184.00" stroke-width="3.00" />
<line x1="915.57" y1="1831.00" x2="915.57" y2="2184.00" stroke-width="3.00" />
<line x1="367.00" y1="1866.30" x2="1007.00" y2="1866.30" stroke-width="3.00" />
<line x1="367.00" y1="1901.60" x2="1007.00" y2="1901.60" stroke-width="3.00" />
<line x1="367.00" y1="1936.90" x2="1007.00" y2="1936.90" stroke-width="3.00" />
<line x1="367.00" y1="1972.20" x2="1007.00" y2="1972.20" stroke-width="3.00" />
<line x1="367.00" y1="2007.50" x2="1007.00" y2="2007.50" stroke-width="3.00" />
<line x1="367.00" y1="2042.80" x2="1007.00" y2="2042.80" stroke-width="3.00" />
<line x1="367.00" y1="2078.10" x2="1007.00" y2="2078.10" stroke-width="3.00" />
<line x1="367.00" y1="2113.40" x2="1007.00" y2="2113.40" stroke-width="3.00" />
<line x1="367.00" y1="2148.70" x2="1007.00" y2="2148.70" stroke-width="3.00" />
</g>
<g stroke="#000" fill="none">
<path d="M367.00 2007.20 L940.30 2004.30" fill="none" stroke-width="6.00"/>
<rect x="367.00" y="1831.00" width="640.00" height="353.00" stroke-width="5.70"/>
</g>
<text transform="translate(277.22 1841.80) scale(0.9597 1)" font-size="36.47" style='font-family:"Liberation Sans",sans-serif'>0.<tspan style='font-family:"NanumGothic","Liberation Sans",sans-serif;stroke:#000;stroke-width:0.022em' font-size='33.73' dx='0.36'>1</tspan><tspan dx='-0.53'>0</tspan></text>
<text transform="translate(277.36 1877.40) scale(0.9597 1)" font-size="36.47" style='font-family:"Liberation Sans",sans-serif'>0.08</text>
<text transform="translate(277.36 1913.00) scale(0.9597 1)" font-size="36.47" style='font-family:"Liberation Sans",sans-serif'>0.06</text>
<text transform="translate(276.87 1948.60) scale(0.9597 1)" font-size="36.47" style='font-family:"Liberation Sans",sans-serif'>0.04</text>
<text transform="translate(277.64 1984.20) scale(0.9597 1)" font-size="36.47" style='font-family:"Liberation Sans",sans-serif'>0.02</text>
<text transform="translate(325.87 2019.80) scale(0.9597 1)" font-size="36.47" style='font-family:"Liberation Sans",sans-serif'>0</text>
<text transform="translate(277.64 2055.40) scale(0.9597 1)" font-size="36.47" style='font-family:"Liberation Sans",sans-serif'>0.02</text>
<line x1="257.97" y1="2045.60" x2="276.97" y2="2045.60" stroke-width="1.90" stroke="#000"/>
<text transform="translate(276.87 2091.00) scale(0.9597 1)" font-size="36.47" style='font-family:"Liberation Sans",sans-serif'>0.04</text>
<line x1="257.20" y1="2081.20" x2="276.20" y2="2081.20" stroke-width="1.90" stroke="#000"/>
<text transform="translate(277.36 2126.60) scale(0.9597 1)" font-size="36.47" style='font-family:"Liberation Sans",sans-serif'>0.06</text>
<line x1="257.69" y1="2116.80" x2="276.69" y2="2116.80" stroke-width="1.90" stroke="#000"/>
<text transform="translate(277.36 2162.20) scale(0.9597 1)" font-size="36.47" style='font-family:"Liberation Sans",sans-serif'>0.08</text>
<line x1="257.69" y1="2152.40" x2="276.69" y2="2152.40" stroke-width="1.90" stroke="#000"/>
<text transform="translate(277.22 2197.80) scale(0.9597 1)" font-size="36.47" style='font-family:"Liberation Sans",sans-serif'>0.<tspan style='font-family:"NanumGothic","Liberation Sans",sans-serif;stroke:#000;stroke-width:0.022em' font-size='33.73' dx='0.36'>1</tspan><tspan dx='-0.53'>0</tspan></text>
<line x1="257.55" y1="2188.00" x2="276.55" y2="2188.00" stroke-width="1.90" stroke="#000"/>
<text transform="translate(339.28 2237.20) scale(0.9597 1)" font-size="36.47" style='font-family:"Liberation Sans",sans-serif'>–40</text>
<text transform="translate(427.08 2237.20) scale(0.9597 1)" font-size="36.47" style='font-family:"Liberation Sans",sans-serif'>–20</text>
<text transform="translate(541.47 2237.20) scale(0.9597 1)" font-size="36.47" style='font-family:"Liberation Sans",sans-serif'>0</text>
<text transform="translate(624.33 2237.20) scale(0.9597 1)" font-size="36.47" style='font-family:"Liberation Sans",sans-serif'>20</text>
<text transform="translate(713.92 2237.20) scale(0.9597 1)" font-size="36.47" style='font-family:"Liberation Sans",sans-serif'>40</text>
<text transform="translate(806.53 2237.20) scale(0.9597 1)" font-size="36.47" style='font-family:"Liberation Sans",sans-serif'>60</text>
<text transform="translate(897.07 2237.20) scale(0.9597 1)" font-size="36.47" style='font-family:"Liberation Sans",sans-serif'>80</text>
<text transform="translate(975.17 2237.20) scale(0.9597 1)" font-size="36.47" style='font-family:"Liberation Sans",sans-serif'><tspan style='font-family:"NanumGothic","Liberation Sans",sans-serif;stroke:#000;stroke-width:0.022em' font-size='33.73' dx='0.36'>1</tspan><tspan dx='-0.53'>00</tspan></text>
<text transform="translate(636.10 2277.80) scale(0.9918 1)" font-size="36.47" style='font-family:"Liberation Sans",sans-serif'>Ta [°C]</text>
<text transform="translate(253.90 2063.12) rotate(-90) scale(0.9597 1)" font-size="36.47" style='font-family:"Liberation Sans",sans-serif'>I</text>
<text transform="translate(253.90 2052.41) rotate(-90) scale(0.9496 1)" font-size="24.49" style='font-family:"Liberation Sans",sans-serif'>FB</text>
<text transform="translate(253.90 2011.93) rotate(-90) scale(0.9927 1)" font-size="36.47" style='font-family:"Liberation Sans",sans-serif'>[<tspan style='font-family:"Liberation Serif",serif'>µ</tspan>A]</text>
<text transform="translate(1212.37 1794.40) scale(0.8453 1)" font-size="36.47" style='font-family:"Liberation Sans",sans-serif'>f</text>
<text transform="translate(1221.26 1798.50) scale(1.1820 1)" font-size="21.05" style='font-family:"Liberation Sans",sans-serif'>OSC</text>
<line x1="1279.40" y1="1781.20" x2="1306.60" y2="1781.20" stroke-width="1.70" stroke="#000"/>
<text transform="translate(1310.93 1794.40) scale(0.9618 1)" font-size="36.47" style='font-family:"Liberation Sans",sans-serif'>Ta</text>
<text transform="translate(1345.54 1792.40) scale(1.4545 1)" font-size="27.50" style='font-family:"Liberation Sans","Noto Sans CJK SC",sans-serif;font-weight:300'>（</text>
<text transform="translate(1391.56 1794.40) scale(0.9389 1)" font-size="36.47" style='font-family:"Liberation Sans",sans-serif'>V</text>
<text transform="translate(1414.39 1798.40) scale(0.9414 1)" font-size="25.53" style='font-family:"Liberation Sans",sans-serif'>IN</text>
<text transform="translate(1449.35 1794.40) scale(0.9440 1)" font-size="36.47" style='font-family:"Liberation Sans",sans-serif'>=</text>
<text transform="translate(1481.00 1794.40) scale(0.9398 1)" font-size="36.47" style='font-family:"Liberation Sans",sans-serif'>3.3</text>
<text transform="translate(1541.46 1794.40) scale(0.9638 1)" font-size="36.47" style='font-family:"Liberation Sans",sans-serif'>V</text>
<text transform="translate(1569.56 1792.40) scale(1.4545 1)" font-size="27.50" style='font-family:"Liberation Sans","Noto Sans CJK SC",sans-serif;font-weight:300'>）</text>
<g stroke="#000" fill="none">
<line x1="1451.86" y1="1831.00" x2="1451.86" y2="2185.00" stroke-width="3.00" />
<line x1="1543.71" y1="1831.00" x2="1543.71" y2="2185.00" stroke-width="3.00" />
<line x1="1635.57" y1="1831.00" x2="1635.57" y2="2185.00" stroke-width="3.00" />
<line x1="1727.43" y1="1831.00" x2="1727.43" y2="2185.00" stroke-width="3.00" />
<line x1="1819.29" y1="1831.00" x2="1819.29" y2="2185.00" stroke-width="3.00" />
<line x1="1911.14" y1="1831.00" x2="1911.14" y2="2185.00" stroke-width="3.00" />
<line x1="1360.00" y1="1881.57" x2="2003.00" y2="1881.57" stroke-width="3.00" />
<line x1="1360.00" y1="1932.14" x2="2003.00" y2="1932.14" stroke-width="3.00" />
<line x1="1360.00" y1="1982.71" x2="2003.00" y2="1982.71" stroke-width="3.00" />
<line x1="1360.00" y1="2033.29" x2="2003.00" y2="2033.29" stroke-width="3.00" />
<line x1="1360.00" y1="2083.86" x2="2003.00" y2="2083.86" stroke-width="3.00" />
<line x1="1360.00" y1="2134.43" x2="2003.00" y2="2134.43" stroke-width="3.00" />
</g>
<rect x="1475.40" y="1839.00" width="493.70" height="48.70" fill="#fff" stroke="none"/>
<rect x="1477.60" y="1937.60" width="476.10" height="52.30" fill="#fff" stroke="none"/>
<rect x="1477.60" y="2037.00" width="472.40" height="44.90" fill="#fff" stroke="none"/>
<g stroke="#000" fill="none">
<path d="M1360.00 1897.50 L1932.00 1911.00" fill="none" stroke-width="6.00"/>
<path d="M1360.00 2007.00 L1932.00 2016.40" fill="none" stroke-width="6.00"/>
<path d="M1360.00 2111.30 L1932.00 2116.80" fill="none" stroke-width="6.00"/>
<line x1="1390.90" y1="1897.00" x2="1472.50" y2="1862.70" stroke-width="3.00" />
<line x1="1393.70" y1="2006.40" x2="1474.10" y2="1962.50" stroke-width="3.00" />
<line x1="1390.90" y1="2111.80" x2="1471.30" y2="2060.80" stroke-width="3.00" />
<rect x="1360.00" y="1831.00" width="643.00" height="354.00" stroke-width="5.70"/>
</g>
<text transform="translate(1262.19 1841.80) scale(0.9597 1)" font-size="36.47" style='font-family:"Liberation Sans",sans-serif'><tspan style='font-family:"NanumGothic","Liberation Sans",sans-serif;stroke:#000;stroke-width:0.022em' font-size='33.73' dx='0.36'>1</tspan><tspan dx='-0.53'>400</tspan></text>
<text transform="translate(1262.19 1893.76) scale(0.9597 1)" font-size="36.47" style='font-family:"Liberation Sans",sans-serif'><tspan style='font-family:"NanumGothic","Liberation Sans",sans-serif;stroke:#000;stroke-width:0.022em' font-size='33.73' dx='0.36'>1</tspan><tspan dx='-0.53'>200</tspan></text>
<text transform="translate(1262.19 1945.71) scale(0.9597 1)" font-size="36.47" style='font-family:"Liberation Sans",sans-serif'><tspan style='font-family:"NanumGothic","Liberation Sans",sans-serif;stroke:#000;stroke-width:0.022em' font-size='33.73' dx='0.36'>1</tspan><tspan dx='-0.53'>000</tspan></text>
<text transform="translate(1281.65 1997.67) scale(0.9597 1)" font-size="36.47" style='font-family:"Liberation Sans",sans-serif'>800</text>
<text transform="translate(1281.65 2049.63) scale(0.9597 1)" font-size="36.47" style='font-family:"Liberation Sans",sans-serif'>600</text>
<text transform="translate(1281.65 2101.59) scale(0.9597 1)" font-size="36.47" style='font-family:"Liberation Sans",sans-serif'>400</text>
<text transform="translate(1281.65 2153.54) scale(0.9597 1)" font-size="36.47" style='font-family:"Liberation Sans",sans-serif'>200</text>
<text transform="translate(1320.57 2205.50) scale(0.9597 1)" font-size="36.47" style='font-family:"Liberation Sans",sans-serif'>0</text>
<text transform="translate(1334.07 2236.30) scale(0.9597 1)" font-size="36.47" style='font-family:"Liberation Sans",sans-serif'>–40</text>
<text transform="translate(1421.88 2236.30) scale(0.9597 1)" font-size="36.47" style='font-family:"Liberation Sans",sans-serif'>–20</text>
<text transform="translate(1536.27 2236.30) scale(0.9597 1)" font-size="36.47" style='font-family:"Liberation Sans",sans-serif'>0</text>
<text transform="translate(1619.13 2236.30) scale(0.9597 1)" font-size="36.47" style='font-family:"Liberation Sans",sans-serif'>20</text>
<text transform="translate(1708.72 2236.30) scale(0.9597 1)" font-size="36.47" style='font-family:"Liberation Sans",sans-serif'>40</text>
<text transform="translate(1801.33 2236.30) scale(0.9597 1)" font-size="36.47" style='font-family:"Liberation Sans",sans-serif'>60</text>
<text transform="translate(1891.87 2236.30) scale(0.9597 1)" font-size="36.47" style='font-family:"Liberation Sans",sans-serif'>80</text>
<text transform="translate(1969.97 2233.50) scale(0.9597 1)" font-size="36.47" style='font-family:"Liberation Sans",sans-serif'><tspan style='font-family:"NanumGothic","Liberation Sans",sans-serif;stroke:#000;stroke-width:0.022em' font-size='33.73' dx='0.36'>1</tspan><tspan dx='-0.53'>00</tspan></text>
<text transform="translate(1630.80 2274.60) scale(0.9918 1)" font-size="36.47" style='font-family:"Liberation Sans",sans-serif'>Ta [°C]</text>
<text transform="translate(1489.34 1876.00) scale(0.9597 1)" font-size="34.39" style='font-family:"Liberation Sans",sans-serif'>f</text>
<text transform="translate(1497.71 1876.00) scale(0.9428 1)" font-size="22.92" style='font-family:"Liberation Sans",sans-serif'>OSC</text>
<text transform="translate(1551.49 1876.00) scale(0.9177 1)" font-size="34.39" style='font-family:"Liberation Sans",sans-serif'>=</text>
<text transform="translate(1579.65 1876.00) scale(0.9217 1)" font-size="34.39" style='font-family:"Liberation Sans",sans-serif'><tspan style='font-family:"NanumGothic","Liberation Sans",sans-serif;stroke:#000;stroke-width:0.022em' font-size='31.80' dx='0.34'>1</tspan><tspan style='font-family:"NanumGothic","Liberation Sans",sans-serif;stroke:#000;stroke-width:0.022em' font-size='31.80' dx='-0.15'>1</tspan><tspan dx='-0.50'>33</tspan></text>
<text transform="translate(1661.29 1876.00) scale(0.9278 1)" font-size="34.39" style='font-family:"Liberation Sans",sans-serif'>kHz</text>
<text transform="translate(1726.21 1876.00) scale(0.9326 1)" font-size="34.39" style='font-family:"Liberation Sans",sans-serif'>(R</text>
<text transform="translate(1759.21 1876.00) scale(0.9408 1)" font-size="22.92" style='font-family:"Liberation Sans",sans-serif'>OSC</text>
<text transform="translate(1813.19 1876.00) scale(0.9177 1)" font-size="34.39" style='font-family:"Liberation Sans",sans-serif'>=</text>
<text transform="translate(1841.82 1876.00) scale(0.9560 1)" font-size="34.39" style='font-family:"Liberation Sans",sans-serif'><tspan style='font-family:"NanumGothic","Liberation Sans",sans-serif;stroke:#000;stroke-width:0.022em' font-size='31.80' dx='0.34'>1</tspan><tspan dx='-0.50'>20</tspan></text>
<text transform="translate(1905.91 1876.00) scale(0.9653 1)" font-size="34.39" style='font-family:"Liberation Sans",sans-serif'>k<tspan style='font-family:"Liberation Serif",serif'>Ω</tspan>)</text>
<text transform="translate(1487.44 1977.20) scale(0.9597 1)" font-size="34.39" style='font-family:"Liberation Sans",sans-serif'>f</text>
<text transform="translate(1495.81 1977.20) scale(0.9428 1)" font-size="22.92" style='font-family:"Liberation Sans",sans-serif'>OSC</text>
<text transform="translate(1549.59 1977.20) scale(0.9177 1)" font-size="34.39" style='font-family:"Liberation Sans",sans-serif'>=</text>
<text transform="translate(1575.12 1977.20) scale(0.9792 1)" font-size="34.39" style='font-family:"Liberation Sans",sans-serif'>700</text>
<text transform="translate(1640.69 1977.20) scale(0.9278 1)" font-size="34.39" style='font-family:"Liberation Sans",sans-serif'>kHz</text>
<text transform="translate(1705.61 1977.20) scale(0.9326 1)" font-size="34.39" style='font-family:"Liberation Sans",sans-serif'>(R</text>
<text transform="translate(1738.61 1977.20) scale(0.9408 1)" font-size="22.92" style='font-family:"Liberation Sans",sans-serif'>OSC</text>
<text transform="translate(1792.59 1977.20) scale(0.9177 1)" font-size="34.39" style='font-family:"Liberation Sans",sans-serif'>=</text>
<text transform="translate(1820.65 1977.20) scale(0.9571 1)" font-size="34.39" style='font-family:"Liberation Sans",sans-serif'>200</text>
<text transform="translate(1884.35 1977.20) scale(0.9452 1)" font-size="34.39" style='font-family:"Liberation Sans",sans-serif'>k<tspan style='font-family:"Liberation Serif",serif'>Ω</tspan>)</text>
<text transform="translate(1487.44 2071.10) scale(0.9597 1)" font-size="34.39" style='font-family:"Liberation Sans",sans-serif'>f</text>
<text transform="translate(1495.81 2071.10) scale(0.9428 1)" font-size="22.92" style='font-family:"Liberation Sans",sans-serif'>OSC</text>
<text transform="translate(1549.59 2071.10) scale(0.9177 1)" font-size="34.39" style='font-family:"Liberation Sans",sans-serif'>=</text>
<text transform="translate(1575.11 2071.10) scale(0.9817 1)" font-size="34.39" style='font-family:"Liberation Sans",sans-serif'>286</text>
<text transform="translate(1640.69 2071.10) scale(0.9278 1)" font-size="34.39" style='font-family:"Liberation Sans",sans-serif'>kHz</text>
<text transform="translate(1705.61 2071.10) scale(0.9326 1)" font-size="34.39" style='font-family:"Liberation Sans",sans-serif'>(R</text>
<text transform="translate(1738.61 2071.10) scale(0.9408 1)" font-size="22.92" style='font-family:"Liberation Sans",sans-serif'>OSC</text>
<text transform="translate(1792.59 2071.10) scale(0.9177 1)" font-size="34.39" style='font-family:"Liberation Sans",sans-serif'>=</text>
<text transform="translate(1820.99 2071.10) scale(0.9510 1)" font-size="34.39" style='font-family:"Liberation Sans",sans-serif'>5<tspan style='font-family:"NanumGothic","Liberation Sans",sans-serif;stroke:#000;stroke-width:0.022em' font-size='31.80' dx='0.34'>1</tspan><tspan dx='-0.50'>0</tspan></text>
<text transform="translate(1884.35 2071.10) scale(0.9452 1)" font-size="34.39" style='font-family:"Liberation Sans",sans-serif'>k<tspan style='font-family:"Liberation Serif",serif'>Ω</tspan>)</text>
<text transform="translate(1247.90 2086.49) rotate(-90) scale(0.9690 1)" font-size="36.47" style='font-family:"Liberation Sans",sans-serif'>f</text>
<text transform="translate(1247.90 2076.59) rotate(-90) scale(0.9690 1)" font-size="24.49" style='font-family:"Liberation Sans",sans-serif'>OSC</text>
<text transform="translate(1247.90 2014.13) rotate(-90) scale(0.9914 1)" font-size="36.47" style='font-family:"Liberation Sans",sans-serif'>[kHz]</text>
<text transform="translate(216.97 2374.30) scale(0.9784 1)" font-size="36.47" style='font-family:"Liberation Sans",sans-serif'>MaxDuty</text>
<line x1="367.10" y1="2361.10" x2="394.30" y2="2361.10" stroke-width="1.70" stroke="#000"/>
<text transform="translate(398.63 2374.30) scale(0.9618 1)" font-size="36.47" style='font-family:"Liberation Sans",sans-serif'>Ta</text>
<text transform="translate(433.24 2372.30) scale(1.4545 1)" font-size="27.50" style='font-family:"Liberation Sans","Noto Sans CJK SC",sans-serif;font-weight:300'>（</text>
<text transform="translate(479.26 2374.30) scale(0.9389 1)" font-size="36.47" style='font-family:"Liberation Sans",sans-serif'>V</text>
<text transform="translate(502.09 2378.30) scale(0.9414 1)" font-size="25.53" style='font-family:"Liberation Sans",sans-serif'>IN</text>
<text transform="translate(537.05 2374.30) scale(0.9440 1)" font-size="36.47" style='font-family:"Liberation Sans",sans-serif'>=</text>
<text transform="translate(568.70 2374.30) scale(0.9398 1)" font-size="36.47" style='font-family:"Liberation Sans",sans-serif'>3.3</text>
<text transform="translate(629.16 2374.30) scale(0.9638 1)" font-size="36.47" style='font-family:"Liberation Sans",sans-serif'>V</text>
<text transform="translate(657.26 2372.30) scale(1.4545 1)" font-size="27.50" style='font-family:"Liberation Sans","Noto Sans CJK SC",sans-serif;font-weight:300'>）</text>
<g stroke="#000" fill="none">
<line x1="459.71" y1="2410.00" x2="459.71" y2="2765.70" stroke-width="3.00" />
<line x1="551.43" y1="2410.00" x2="551.43" y2="2765.70" stroke-width="3.00" />
<line x1="643.14" y1="2410.00" x2="643.14" y2="2765.70" stroke-width="3.00" />
<line x1="734.86" y1="2410.00" x2="734.86" y2="2765.70" stroke-width="3.00" />
<line x1="826.57" y1="2410.00" x2="826.57" y2="2765.70" stroke-width="3.00" />
<line x1="918.29" y1="2410.00" x2="918.29" y2="2765.70" stroke-width="3.00" />
<line x1="368.00" y1="2445.57" x2="1010.00" y2="2445.57" stroke-width="3.00" />
<line x1="368.00" y1="2481.14" x2="1010.00" y2="2481.14" stroke-width="3.00" />
<line x1="368.00" y1="2516.71" x2="1010.00" y2="2516.71" stroke-width="3.00" />
<line x1="368.00" y1="2552.28" x2="1010.00" y2="2552.28" stroke-width="3.00" />
<line x1="368.00" y1="2587.85" x2="1010.00" y2="2587.85" stroke-width="3.00" />
<line x1="368.00" y1="2623.42" x2="1010.00" y2="2623.42" stroke-width="3.00" />
<line x1="368.00" y1="2658.99" x2="1010.00" y2="2658.99" stroke-width="3.00" />
<line x1="368.00" y1="2694.56" x2="1010.00" y2="2694.56" stroke-width="3.00" />
<line x1="368.00" y1="2730.13" x2="1010.00" y2="2730.13" stroke-width="3.00" />
</g>
<rect x="479.00" y="2457.60" width="477.70" height="43.30" fill="#fff" stroke="none"/>
<rect x="478.00" y="2526.00" width="477.70" height="44.90" fill="#fff" stroke="none"/>
<rect x="478.00" y="2627.00" width="477.70" height="44.90" fill="#fff" stroke="none"/>
<g stroke="#000" fill="none">
<path d="M368.00 2451.80 L940.80 2455.00" fill="none" stroke-width="6.00"/>
<path d="M368.00 2503.10 L940.80 2507.60" fill="none" stroke-width="6.00"/>
<path d="M368.00 2597.30 C415.00 2597.42 554.53 2598.25 650.00 2598.00 C745.47 2597.75 892.33 2596.17 940.80 2595.80" fill="none" stroke-width="6.00"/>
<line x1="429.70" y1="2454.00" x2="479.50" y2="2473.80" stroke-width="3.00" />
<line x1="428.60" y1="2504.80" x2="478.60" y2="2542.50" stroke-width="3.00" />
<line x1="431.40" y1="2599.10" x2="479.70" y2="2647.40" stroke-width="3.00" />
<rect x="368.00" y="2410.00" width="642.00" height="355.70" stroke-width="5.70"/>
</g>
<text transform="translate(286.95 2421.80) scale(0.9597 1)" font-size="36.47" style='font-family:"Liberation Sans",sans-serif'><tspan style='font-family:"NanumGothic","Liberation Sans",sans-serif;stroke:#000;stroke-width:0.022em' font-size='33.73' dx='0.36'>1</tspan><tspan dx='-0.53'>00</tspan></text>
<text transform="translate(306.41 2457.40) scale(0.9597 1)" font-size="36.47" style='font-family:"Liberation Sans",sans-serif'>90</text>
<text transform="translate(306.41 2493.00) scale(0.9597 1)" font-size="36.47" style='font-family:"Liberation Sans",sans-serif'>80</text>
<text transform="translate(306.41 2528.60) scale(0.9597 1)" font-size="36.47" style='font-family:"Liberation Sans",sans-serif'>70</text>
<text transform="translate(306.41 2564.20) scale(0.9597 1)" font-size="36.47" style='font-family:"Liberation Sans",sans-serif'>60</text>
<text transform="translate(306.41 2599.80) scale(0.9597 1)" font-size="36.47" style='font-family:"Liberation Sans",sans-serif'>50</text>
<text transform="translate(306.41 2635.40) scale(0.9597 1)" font-size="36.47" style='font-family:"Liberation Sans",sans-serif'>40</text>
<text transform="translate(306.41 2671.00) scale(0.9597 1)" font-size="36.47" style='font-family:"Liberation Sans",sans-serif'>30</text>
<text transform="translate(306.41 2706.60) scale(0.9597 1)" font-size="36.47" style='font-family:"Liberation Sans",sans-serif'>20</text>
<text transform="translate(306.41 2742.20) scale(0.9597 1)" font-size="36.47" style='font-family:"Liberation Sans",sans-serif'><tspan style='font-family:"NanumGothic","Liberation Sans",sans-serif;stroke:#000;stroke-width:0.022em' font-size='33.73' dx='0.36'>1</tspan><tspan dx='-0.53'>0</tspan></text>
<text transform="translate(325.87 2777.80) scale(0.9597 1)" font-size="36.47" style='font-family:"Liberation Sans",sans-serif'>0</text>
<text transform="translate(339.28 2818.60) scale(0.9597 1)" font-size="36.47" style='font-family:"Liberation Sans",sans-serif'>–40</text>
<text transform="translate(427.08 2818.60) scale(0.9597 1)" font-size="36.47" style='font-family:"Liberation Sans",sans-serif'>–20</text>
<text transform="translate(541.47 2818.60) scale(0.9597 1)" font-size="36.47" style='font-family:"Liberation Sans",sans-serif'>0</text>
<text transform="translate(624.33 2818.60) scale(0.9597 1)" font-size="36.47" style='font-family:"Liberation Sans",sans-serif'>20</text>
<text transform="translate(713.92 2818.60) scale(0.9597 1)" font-size="36.47" style='font-family:"Liberation Sans",sans-serif'>40</text>
<text transform="translate(806.53 2818.60) scale(0.9597 1)" font-size="36.47" style='font-family:"Liberation Sans",sans-serif'>60</text>
<text transform="translate(897.07 2818.60) scale(0.9597 1)" font-size="36.47" style='font-family:"Liberation Sans",sans-serif'>80</text>
<text transform="translate(975.17 2816.30) scale(0.9597 1)" font-size="36.47" style='font-family:"Liberation Sans",sans-serif'><tspan style='font-family:"NanumGothic","Liberation Sans",sans-serif;stroke:#000;stroke-width:0.022em' font-size='33.73' dx='0.36'>1</tspan><tspan dx='-0.53'>00</tspan></text>
<text transform="translate(636.10 2857.80) scale(0.9918 1)" font-size="36.47" style='font-family:"Liberation Sans",sans-serif'>Ta [°C]</text>
<text transform="translate(486.68 2489.70) scale(0.7488 1)" font-size="31.26" style='font-family:"Liberation Sans",sans-serif'>MaxDuty</text>
<text transform="translate(588.27 2489.70) scale(0.6883 1)" font-size="31.26" style='font-family:"Liberation Sans",sans-serif'>=</text>
<text transform="translate(607.51 2489.70) scale(0.7551 1)" font-size="31.26" style='font-family:"Liberation Sans",sans-serif'>88.5%</text>
<text transform="translate(682.05 2489.70) scale(0.6599 1)" font-size="28.13" style='font-family:"Liberation Sans",sans-serif'>(R</text>
<text transform="translate(701.23 2489.70) scale(0.7109 1)" font-size="17.30" style='font-family:"Liberation Sans",sans-serif'>OSC</text>
<text transform="translate(733.56 2489.70) scale(0.6992 1)" font-size="28.13" style='font-family:"Liberation Sans",sans-serif'>=</text>
<text transform="translate(750.15 2489.70) scale(0.6726 1)" font-size="28.13" style='font-family:"Liberation Sans",sans-serif'>200</text>
<text transform="translate(787.71 2489.70) scale(0.6926 1)" font-size="28.13" style='font-family:"Liberation Sans",sans-serif'>k<tspan style='font-family:"Liberation Serif",serif'>Ω</tspan>,</text>
<text transform="translate(820.92 2489.70) scale(0.7300 1)" font-size="28.13" style='font-family:"Liberation Sans",sans-serif'>R</text>
<text transform="translate(834.47 2489.70) scale(0.7241 1)" font-size="17.30" style='font-family:"Liberation Sans",sans-serif'>Duty</text>
<text transform="translate(865.96 2489.70) scale(0.6992 1)" font-size="28.13" style='font-family:"Liberation Sans",sans-serif'>=</text>
<text transform="translate(883.68 2489.70) scale(0.6263 1)" font-size="28.13" style='font-family:"Liberation Sans",sans-serif'><tspan style='font-family:"NanumGothic","Liberation Sans",sans-serif;stroke:#000;stroke-width:0.022em' font-size='26.02' dx='0.28'>1</tspan><tspan dx='-0.41'>00</tspan></text>
<text transform="translate(919.08 2489.70) scale(0.7088 1)" font-size="28.13" style='font-family:"Liberation Sans",sans-serif'>k<tspan style='font-family:"Liberation Serif",serif'>Ω</tspan>)</text>
<text transform="translate(486.68 2560.70) scale(0.7488 1)" font-size="31.26" style='font-family:"Liberation Sans",sans-serif'>MaxDuty</text>
<text transform="translate(588.27 2560.70) scale(0.6883 1)" font-size="31.26" style='font-family:"Liberation Sans",sans-serif'>=</text>
<text transform="translate(607.30 2560.70) scale(0.7664 1)" font-size="31.26" style='font-family:"Liberation Sans",sans-serif'>73%</text>
<text transform="translate(662.85 2560.70) scale(0.6599 1)" font-size="28.13" style='font-family:"Liberation Sans",sans-serif'>(R</text>
<text transform="translate(682.03 2560.70) scale(0.7109 1)" font-size="17.30" style='font-family:"Liberation Sans",sans-serif'>OSC</text>
<text transform="translate(714.36 2560.70) scale(0.6992 1)" font-size="28.13" style='font-family:"Liberation Sans",sans-serif'>=</text>
<text transform="translate(730.95 2560.70) scale(0.6726 1)" font-size="28.13" style='font-family:"Liberation Sans",sans-serif'>200</text>
<text transform="translate(768.51 2560.70) scale(0.6926 1)" font-size="28.13" style='font-family:"Liberation Sans",sans-serif'>k<tspan style='font-family:"Liberation Serif",serif'>Ω</tspan>,</text>
<text transform="translate(801.72 2560.70) scale(0.7300 1)" font-size="28.13" style='font-family:"Liberation Sans",sans-serif'>R</text>
<text transform="translate(815.27 2560.70) scale(0.7241 1)" font-size="17.30" style='font-family:"Liberation Sans",sans-serif'>Duty</text>
<text transform="translate(846.76 2560.70) scale(0.6992 1)" font-size="28.13" style='font-family:"Liberation Sans",sans-serif'>=</text>
<text transform="translate(863.71 2560.70) scale(0.6430 1)" font-size="28.13" style='font-family:"Liberation Sans",sans-serif'>300</text>
<text transform="translate(899.88 2560.70) scale(0.7088 1)" font-size="28.13" style='font-family:"Liberation Sans",sans-serif'>k<tspan style='font-family:"Liberation Serif",serif'>Ω</tspan>)</text>
<text transform="translate(486.68 2660.70) scale(0.7488 1)" font-size="31.26" style='font-family:"Liberation Sans",sans-serif'>MaxDuty</text>
<text transform="translate(588.27 2660.70) scale(0.6883 1)" font-size="31.26" style='font-family:"Liberation Sans",sans-serif'>=</text>
<text transform="translate(607.98 2660.70) scale(0.7553 1)" font-size="31.26" style='font-family:"Liberation Sans",sans-serif'>47%</text>
<text transform="translate(662.85 2660.70) scale(0.6599 1)" font-size="28.13" style='font-family:"Liberation Sans",sans-serif'>(R</text>
<text transform="translate(682.03 2660.70) scale(0.7109 1)" font-size="17.30" style='font-family:"Liberation Sans",sans-serif'>OSC</text>
<text transform="translate(714.36 2660.70) scale(0.6992 1)" font-size="28.13" style='font-family:"Liberation Sans",sans-serif'>=</text>
<text transform="translate(730.95 2660.70) scale(0.6726 1)" font-size="28.13" style='font-family:"Liberation Sans",sans-serif'>200</text>
<text transform="translate(768.51 2660.70) scale(0.6926 1)" font-size="28.13" style='font-family:"Liberation Sans",sans-serif'>k<tspan style='font-family:"Liberation Serif",serif'>Ω</tspan>,</text>
<text transform="translate(801.72 2660.70) scale(0.7300 1)" font-size="28.13" style='font-family:"Liberation Sans",sans-serif'>R</text>
<text transform="translate(815.27 2660.70) scale(0.7241 1)" font-size="17.30" style='font-family:"Liberation Sans",sans-serif'>Duty</text>
<text transform="translate(846.76 2660.70) scale(0.6992 1)" font-size="28.13" style='font-family:"Liberation Sans",sans-serif'>=</text>
<text transform="translate(863.49 2660.70) scale(0.6479 1)" font-size="28.13" style='font-family:"Liberation Sans",sans-serif'>640</text>
<text transform="translate(899.88 2660.70) scale(0.7088 1)" font-size="28.13" style='font-family:"Liberation Sans",sans-serif'>k<tspan style='font-family:"Liberation Serif",serif'>Ω</tspan>)</text>
<text transform="translate(253.90 2686.76) rotate(-90) scale(0.9887 1)" font-size="36.47" style='font-family:"Liberation Sans",sans-serif'>MaxDuty [%]</text>
<text transform="translate(1212.85 2374.30) scale(0.8821 1)" font-size="36.47" style='font-family:"Liberation Sans",sans-serif'>t</text>
<text transform="translate(1224.00 2377.90) scale(1.1513 1)" font-size="19.80" style='font-family:"Liberation Sans",sans-serif'>SS</text>
<line x1="1259.50" y1="2361.10" x2="1286.70" y2="2361.10" stroke-width="1.70" stroke="#000"/>
<text transform="translate(1291.03 2374.30) scale(0.9618 1)" font-size="36.47" style='font-family:"Liberation Sans",sans-serif'>Ta</text>
<text transform="translate(1325.64 2372.30) scale(1.4545 1)" font-size="27.50" style='font-family:"Liberation Sans","Noto Sans CJK SC",sans-serif;font-weight:300'>（</text>
<text transform="translate(1371.66 2374.30) scale(0.9389 1)" font-size="36.47" style='font-family:"Liberation Sans",sans-serif'>V</text>
<text transform="translate(1394.49 2378.30) scale(0.9414 1)" font-size="25.53" style='font-family:"Liberation Sans",sans-serif'>IN</text>
<text transform="translate(1429.45 2374.30) scale(0.9440 1)" font-size="36.47" style='font-family:"Liberation Sans",sans-serif'>=</text>
<text transform="translate(1461.10 2374.30) scale(0.9398 1)" font-size="36.47" style='font-family:"Liberation Sans",sans-serif'>3.3</text>
<text transform="translate(1521.56 2374.30) scale(0.9638 1)" font-size="36.47" style='font-family:"Liberation Sans",sans-serif'>V</text>
<text transform="translate(1549.66 2372.30) scale(1.4545 1)" font-size="27.50" style='font-family:"Liberation Sans","Noto Sans CJK SC",sans-serif;font-weight:300'>）</text>
<g stroke="#000" fill="none">
<line x1="1453.86" y1="2410.00" x2="1453.86" y2="2765.80" stroke-width="3.00" />
<line x1="1545.71" y1="2410.00" x2="1545.71" y2="2765.80" stroke-width="3.00" />
<line x1="1637.57" y1="2410.00" x2="1637.57" y2="2765.80" stroke-width="3.00" />
<line x1="1729.43" y1="2410.00" x2="1729.43" y2="2765.80" stroke-width="3.00" />
<line x1="1821.29" y1="2410.00" x2="1821.29" y2="2765.80" stroke-width="3.00" />
<line x1="1913.14" y1="2410.00" x2="1913.14" y2="2765.80" stroke-width="3.00" />
<line x1="1362.00" y1="2481.16" x2="2005.00" y2="2481.16" stroke-width="3.00" />
<line x1="1362.00" y1="2552.32" x2="2005.00" y2="2552.32" stroke-width="3.00" />
<line x1="1362.00" y1="2623.48" x2="2005.00" y2="2623.48" stroke-width="3.00" />
<line x1="1362.00" y1="2694.64" x2="2005.00" y2="2694.64" stroke-width="3.00" />
</g>
<rect x="1763.00" y="2472.80" width="180.40" height="41.00" fill="#fff" stroke="none"/>
<rect x="1763.00" y="2580.60" width="192.00" height="39.80" fill="#fff" stroke="none"/>
<g stroke="#000" fill="none">
<path d="M1362.00 2467.20 C1377.27 2470.68 1422.93 2480.63 1453.60 2488.10 C1484.27 2495.57 1515.60 2504.82 1546.00 2512.00 C1576.40 2519.18 1612.73 2526.62 1636.00 2531.20 C1659.27 2535.78 1669.93 2537.13 1685.60 2539.50 C1701.27 2541.87 1707.38 2543.02 1730.00 2545.40 C1752.62 2547.78 1790.88 2551.30 1821.30 2553.80 C1851.72 2556.30 1893.58 2558.88 1912.50 2560.40 C1931.42 2561.92 1931.08 2562.48 1934.80 2562.90" fill="none" stroke-width="6.00"/>
<path d="M1362.00 2619.00 C1377.27 2620.20 1422.93 2623.57 1453.60 2626.20 C1484.27 2628.83 1515.60 2632.08 1546.00 2634.80 C1576.40 2637.52 1613.35 2640.55 1636.00 2642.50 C1658.65 2644.45 1666.23 2645.38 1681.90 2646.50 C1697.57 2647.62 1706.77 2648.05 1730.00 2649.20 C1753.23 2650.35 1790.88 2651.97 1821.30 2653.40 C1851.72 2654.83 1893.58 2656.80 1912.50 2657.80 C1931.42 2658.80 1931.08 2659.13 1934.80 2659.40" fill="none" stroke-width="6.00"/>
<line x1="1685.60" y1="2538.40" x2="1768.40" y2="2495.80" stroke-width="3.00" />
<line x1="1680.70" y1="2644.20" x2="1765.60" y2="2600.80" stroke-width="3.00" />
<rect x="1362.00" y="2410.00" width="643.00" height="355.80" stroke-width="5.70"/>
</g>
<text transform="translate(1271.92 2421.80) scale(0.9597 1)" font-size="36.47" style='font-family:"Liberation Sans",sans-serif'>25.0</text>
<text transform="translate(1271.92 2493.72) scale(0.9597 1)" font-size="36.47" style='font-family:"Liberation Sans",sans-serif'>20.0</text>
<text transform="translate(1271.92 2565.64) scale(0.9597 1)" font-size="36.47" style='font-family:"Liberation Sans",sans-serif'><tspan style='font-family:"NanumGothic","Liberation Sans",sans-serif;stroke:#000;stroke-width:0.022em' font-size='33.73' dx='0.36'>1</tspan><tspan dx='-0.53'>5.0</tspan></text>
<text transform="translate(1271.92 2637.56) scale(0.9597 1)" font-size="36.47" style='font-family:"Liberation Sans",sans-serif'><tspan style='font-family:"NanumGothic","Liberation Sans",sans-serif;stroke:#000;stroke-width:0.022em' font-size='33.73' dx='0.36'>1</tspan><tspan dx='-0.53'>0.0</tspan></text>
<text transform="translate(1291.38 2709.48) scale(0.9597 1)" font-size="36.47" style='font-family:"Liberation Sans",sans-serif'>5.0</text>
<text transform="translate(1320.57 2781.40) scale(0.9597 1)" font-size="36.47" style='font-family:"Liberation Sans",sans-serif'>0</text>
<text transform="translate(1334.07 2819.20) scale(0.9597 1)" font-size="36.47" style='font-family:"Liberation Sans",sans-serif'>–40</text>
<text transform="translate(1421.88 2819.20) scale(0.9597 1)" font-size="36.47" style='font-family:"Liberation Sans",sans-serif'>–20</text>
<text transform="translate(1536.27 2819.20) scale(0.9597 1)" font-size="36.47" style='font-family:"Liberation Sans",sans-serif'>0</text>
<text transform="translate(1619.13 2819.20) scale(0.9597 1)" font-size="36.47" style='font-family:"Liberation Sans",sans-serif'>20</text>
<text transform="translate(1708.72 2819.20) scale(0.9597 1)" font-size="36.47" style='font-family:"Liberation Sans",sans-serif'>40</text>
<text transform="translate(1801.33 2819.20) scale(0.9597 1)" font-size="36.47" style='font-family:"Liberation Sans",sans-serif'>60</text>
<text transform="translate(1891.87 2819.20) scale(0.9597 1)" font-size="36.47" style='font-family:"Liberation Sans",sans-serif'>80</text>
<text transform="translate(1969.97 2816.90) scale(0.9597 1)" font-size="36.47" style='font-family:"Liberation Sans",sans-serif'><tspan style='font-family:"NanumGothic","Liberation Sans",sans-serif;stroke:#000;stroke-width:0.022em' font-size='33.73' dx='0.36'>1</tspan><tspan dx='-0.53'>00</tspan></text>
<text transform="translate(1626.10 2857.50) scale(0.9918 1)" font-size="36.47" style='font-family:"Liberation Sans",sans-serif'>Ta [°C]</text>
<text transform="translate(1776.76 2505.10) scale(0.7101 1)" font-size="34.39" style='font-family:"Liberation Sans",sans-serif'>t</text>
<text transform="translate(1783.71 2505.10) scale(0.9917 1)" font-size="25.01" style='font-family:"Liberation Sans",sans-serif'>SS</text>
<text transform="translate(1823.30 2505.10) scale(1.0906 1)" font-size="34.39" style='font-family:"Liberation Sans",sans-serif'>=</text>
<text transform="translate(1853.83 2505.10) scale(1.0309 1)" font-size="34.39" style='font-family:"Liberation Sans",sans-serif'>20</text>
<text transform="translate(1904.72 2505.10) scale(1.0504 1)" font-size="34.39" style='font-family:"Liberation Sans",sans-serif'>ms</text>
<text transform="translate(1776.76 2611.70) scale(0.7101 1)" font-size="34.39" style='font-family:"Liberation Sans",sans-serif'>t</text>
<text transform="translate(1783.71 2611.70) scale(0.9917 1)" font-size="25.01" style='font-family:"Liberation Sans",sans-serif'>SS</text>
<text transform="translate(1823.30 2611.70) scale(1.0906 1)" font-size="34.39" style='font-family:"Liberation Sans",sans-serif'>=</text>
<text transform="translate(1855.40 2611.70) scale(0.9885 1)" font-size="34.39" style='font-family:"Liberation Sans",sans-serif'><tspan style='font-family:"NanumGothic","Liberation Sans",sans-serif;stroke:#000;stroke-width:0.022em' font-size='31.80' dx='0.34'>1</tspan><tspan dx='-0.50'>0</tspan></text>
<text transform="translate(1904.72 2611.70) scale(1.0504 1)" font-size="34.39" style='font-family:"Liberation Sans",sans-serif'>ms</text>
<text transform="translate(1247.90 2645.41) rotate(-90)" font-size="36.47" style='font-family:"Liberation Sans",sans-serif'>t</text>
<text transform="translate(1247.90 2634.32) rotate(-90) scale(0.9472 1)" font-size="24.49" style='font-family:"Liberation Sans",sans-serif'>SS</text>
<text transform="translate(1247.90 2593.46) rotate(-90) scale(1.0024 1)" font-size="36.47" style='font-family:"Liberation Sans",sans-serif'>[ms]</text>
<g filter="url(#wb)" style="fill:#c6c6c6;stroke:#c6c6c6;stroke-width:5.5;stroke-linejoin:round">
<ellipse cx="1898.0" cy="3082.0" rx="18.0" ry="26.0" transform="rotate(-18 1898.0 3082.0)"/>
<ellipse cx="1935.6" cy="3044.7" rx="16.5" ry="26.0" transform="rotate(-5 1935.6 3044.7)"/>
<ellipse cx="1983.9" cy="3046.5" rx="16.5" ry="26.0" transform="rotate(8 1983.9 3046.5)"/>
<ellipse cx="2018.5" cy="3089.4" rx="18.0" ry="26.0" transform="rotate(20 2018.5 3089.4)"/>
<path d="M1958 3088 C1985 3086 2002 3113 2015 3135 C2032 3162 2019 3186 1990 3184 C1975 3183 1970 3179 1958 3179 C1946 3179 1940 3184 1924 3185 C1895 3186 1886 3160 1903 3135 C1918 3113 1932 3090 1958 3088 Z"/>
<text transform="translate(1690.46 3181.50)" font-size="121.91" style='font-family:"Liberation Sans",sans-serif;font-weight:bold'>Bai</text>
<text transform="translate(2042.42 3174.00) scale(0.9777 1)" font-size="90.00" style='font-family:"Liberation Sans","Noto Sans CJK SC",sans-serif;font-weight:bold'>经验</text>
<text transform="translate(1698.97 3256.50) scale(0.8708 1)" font-size="69.81" style='font-family:"Liberation Sans",sans-serif;font-weight:bold'>jingyan.baidu.com</text>
</g>
<g filter="url(#wb2)" style="fill:#fff;stroke:#fff;stroke-width:0.6">
<ellipse cx="1898.0" cy="3082.0" rx="18.0" ry="26.0" transform="rotate(-18 1898.0 3082.0)"/>
<ellipse cx="1935.6" cy="3044.7" rx="16.5" ry="26.0" transform="rotate(-5 1935.6 3044.7)"/>
<ellipse cx="1983.9" cy="3046.5" rx="16.5" ry="26.0" transform="rotate(8 1983.9 3046.5)"/>
<ellipse cx="2018.5" cy="3089.4" rx="18.0" ry="26.0" transform="rotate(20 2018.5 3089.4)"/>
<path d="M1958 3088 C1985 3086 2002 3113 2015 3135 C2032 3162 2019 3186 1990 3184 C1975 3183 1970 3179 1958 3179 C1946 3179 1940 3184 1924 3185 C1895 3186 1886 3160 1903 3135 C1918 3113 1932 3090 1958 3088 Z"/>
<text transform="translate(1690.46 3181.50)" font-size="121.91" style='font-family:"Liberation Sans",sans-serif;font-weight:bold'>Bai</text>
<text transform="translate(2042.42 3174.00) scale(0.9777 1)" font-size="90.00" style='font-family:"Liberation Sans","Noto Sans CJK SC",sans-serif;font-weight:bold'>经验</text>
<text transform="translate(1698.97 3256.50) scale(0.8708 1)" font-size="69.81" style='font-family:"Liberation Sans",sans-serif;font-weight:bold'>jingyan.baidu.com</text>
</g>
<g filter="url(#wb2)">
<text transform="translate(1908.01 3169.50) scale(0.9973 1)" font-size="75.02" style='font-family:"Liberation Sans",sans-serif;font-weight:bold;fill:#e9e9e9;stroke:#b4b4b4;stroke-width:2.4'>du</text>
</g>
</svg>
</body></html>
